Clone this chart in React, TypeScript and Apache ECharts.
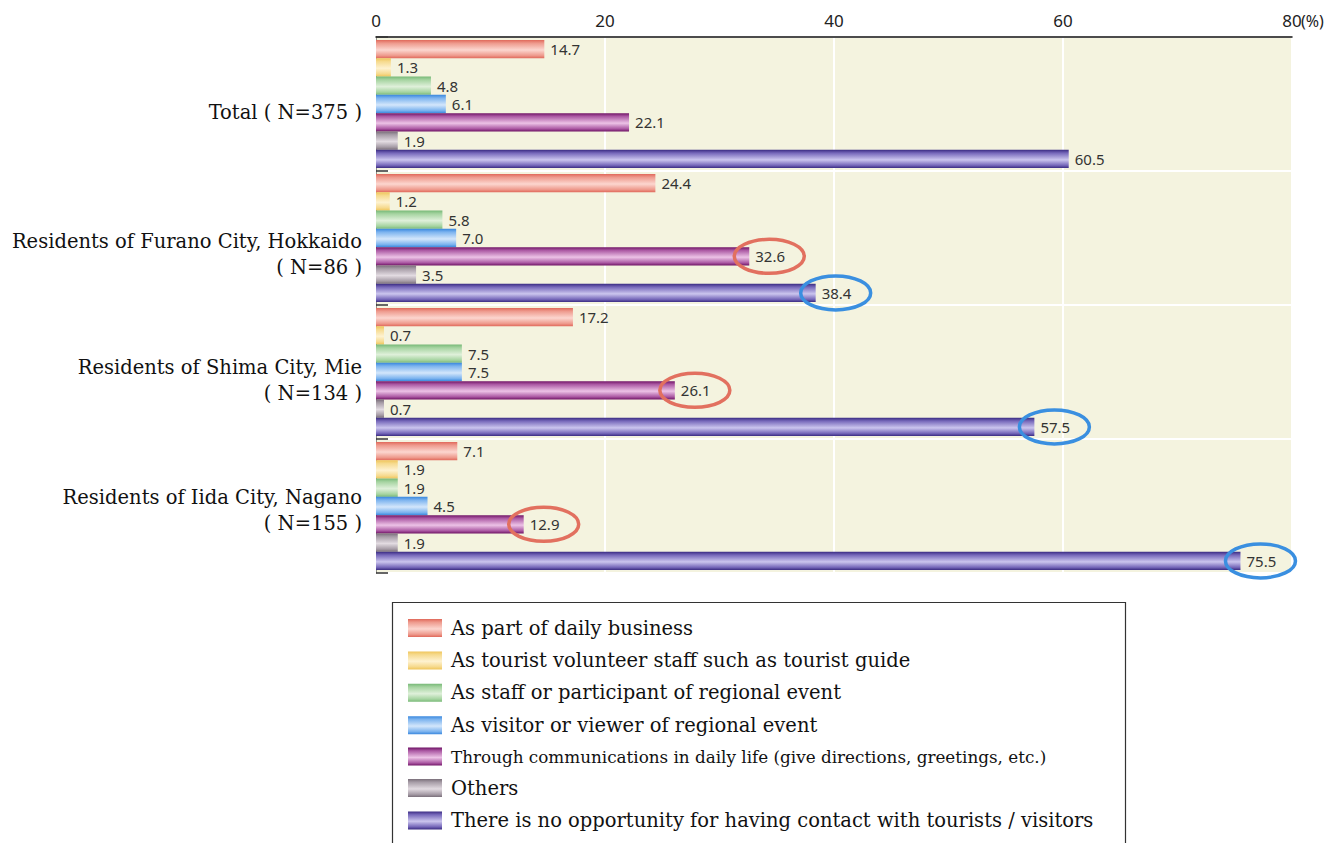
import React, { useEffect, useRef } from "react";
import * as echarts from "echarts";

// Respondent groups (top to bottom)
const categories = [
  "Total ( N=375 )",
  "Residents of Furano City, Hokkaido\n( N=86 )",
  "Residents of Shima City, Mie\n( N=134 )",
  "Residents of Iida City, Nagano\n( N=155 )",
];

// Answer options
const seriesNames = [
  "As part of daily business",
  "As tourist volunteer staff such as tourist guide",
  "As staff or participant of regional event",
  "As visitor or viewer of regional event",
  "Through communications in daily life (give directions, greetings, etc.)",
  "Others",
  "There is no opportunity for having contact with tourists / visitors",
];

// Percentages per group (Total, Furano, Shima, Iida)
const dailyBusiness = [14.7, 24.4, 17.2, 7.1];
const volunteerStaff = [1.3, 1.2, 0.7, 1.9];
const eventStaff = [4.8, 5.8, 7.5, 1.9];
const eventVisitor = [6.1, 7.0, 7.5, 4.5];
const dailyCommunication = [22.1, 32.6, 26.1, 12.9];
const others = [1.9, 3.5, 0.7, 1.9];
const noOpportunity = [60.5, 38.4, 57.5, 75.5];

const seriesValues = [
  dailyBusiness,
  volunteerStaff,
  eventStaff,
  eventVisitor,
  dailyCommunication,
  others,
  noOpportunity,
];

// Value axis ticks
const xTicks = [0, 20, 40, 60, 80];

// Circled values: [series index, group index]
const circled = [
  [4, 1],
  [4, 2],
  [4, 3],
  [6, 1],
  [6, 2],
  [6, 3],
];

// [edge, mid, highlight] shades for each cylinder-style bar
const palette = [
  ["#e0685a", "#ee9a8d", "#fcd6cf"],
  ["#efc55a", "#f6da8e", "#fef2d0"],
  ["#78b978", "#a6d4a1", "#dff0da"],
  ["#3a88de", "#7db4ef", "#d3e6fb"],
  ["#701466", "#ac5aa4", "#ecc2e6"],
  ["#7a6f7a", "#a79da7", "#e2dbe1"],
  ["#3a2b82", "#7668ba", "#cbc5ee"],
];

const ringColors: Record<number, string> = { 4: "#e2705f", 6: "#3a8fe0" };

// height of a blank spacer line above each group label, nudging it below the band centre
const labelSpacer = [16, 32, 16, 8];

const BAR_WIDTH = 18.3;
const SANS = "'Noto Sans', 'Open Sans', sans-serif";
const SERIF = "'DejaVu Serif', 'Liberation Serif', serif";

function cylinder(c: string[]) {
  return new echarts.graphic.LinearGradient(0, 0, 0, 1, [
    { offset: 0, color: c[0] },
    { offset: 0.18, color: c[1] },
    { offset: 0.55, color: c[2] },
    { offset: 0.85, color: c[1] },
    { offset: 1, color: c[0] },
  ]);
}

export default function App() {
  const ref = useRef<HTMLDivElement>(null);

  useEffect(() => {
    if (!ref.current) return;
    const chart = echarts.init(ref.current, null, { renderer: "svg" });

    const barSeries = seriesNames.map((name, i) => ({
      name,
      type: "bar",
      data: seriesValues[i],
      barWidth: BAR_WIDTH,
      barGap: "0%",
      z: 2,
      itemStyle: { color: cylinder(palette[i]) },
      label: {
        show: true,
        position: "right",
        distance: 6,
        formatter: (p: any) => Number(p.value).toFixed(1),
        fontFamily: SANS,
        fontSize: 15,
        color: "#333",
      },
    }));

    const ringSeries = {
      type: "custom",
      name: "circled",
      silent: true,
      z: 6,
      data: circled.map(([s, c]) => [seriesValues[s][c], c, s]),
      encode: { x: 0, y: 1 },
      renderItem: (_params: any, api: any) => {
        const value = api.value(0);
        const cat = api.value(1);
        const s = api.value(2);
        const p = api.coord([value, cat]);
        const total = BAR_WIDTH * seriesNames.length;
        const cy = p[1] - total / 2 + s * BAR_WIDTH + BAR_WIDTH / 2;
        return {
          type: "ellipse",
          shape: { cx: p[0] + 20, cy, rx: 35, ry: 17 },
          style: { fill: "none", stroke: ringColors[s], lineWidth: 3.5 },
        };
      },
    };

    const labelRich: Record<string, any> = {
      t: { fontFamily: SERIF, fontSize: 19.5, color: "#111", lineHeight: 26 },
    };
    labelSpacer.forEach((h, i) => {
      labelRich["g" + i] = { fontSize: 1, lineHeight: h };
    });

    chart.setOption({
      animation: false,
      backgroundColor: "#ffffff",
      grid: {
        left: 376,
        top: 37,
        width: 916,
        height: 536,
        show: true,
        backgroundColor: "#f4f3df",
        borderColor: "#8f8f86",
        borderWidth: 1,
      },
      xAxis: {
        type: "value",
        position: "top",
        min: xTicks[0],
        max: xTicks[xTicks.length - 1],
        interval: xTicks[1] - xTicks[0],
        axisLine: { show: true, lineStyle: { color: "#111", width: 1.5 } },
        axisTick: { show: false },
        axisLabel: { fontFamily: SANS, fontSize: 17, color: "#222", margin: 8 },
        splitLine: { show: true, lineStyle: { color: "#ffffff", width: 2 } },
      },
      yAxis: {
        type: "category",
        inverse: true,
        data: categories,
        axisLine: { show: true, lineStyle: { color: "#8f8f86", width: 1 } },
        axisTick: { show: true, inside: true, length: 12, lineStyle: { color: "#333", width: 1.5 } },
        splitLine: { show: true, lineStyle: { color: "#ffffff", width: 2 } },
        axisLabel: {
          margin: 14,
          formatter: (value: string, index: number) =>
            [`{g${index}| }`, ...value.split("\n").map((ln) => `{t|${ln}}`)].join("\n"),
          rich: labelRich,
        },
      },
      legend: {
        data: seriesNames,
        orient: "vertical",
        left: 408,
        top: 618,
        padding: 0,
        itemWidth: 34,
        itemHeight: 18,
        itemGap: 12.4,
        icon: "rect",
        selectedMode: false,
        formatter: (name: string) => (name === seriesNames[4] ? `{s|${name}}` : name),
        textStyle: {
          fontFamily: SERIF,
          fontSize: 19.5,
          color: "#111",
          lineHeight: 18,
          padding: [0, 0, 0, 4],
          rich: { s: { fontFamily: SERIF, fontSize: 16.8, color: "#111", lineHeight: 18 } },
        },
      },
      graphic: [
        {
          type: "rect",
          z: -1,
          shape: { x: 392.5, y: 602.5, width: 733, height: 260 },
          style: { fill: "#ffffff", stroke: "#333", lineWidth: 1.2 },
        },
        {
          type: "text",
          x: 1301,
          y: 21,
          style: {
            text: "(%)",
            fontFamily: SANS,
            fontSize: 16,
            fill: "#222",
            verticalAlign: "middle",
          },
        },
      ],
      series: [...barSeries, ringSeries],
    });

    return () => chart.dispose();
  }, []);

  return (
    <div
      ref={ref}
      style={{ position: "fixed", left: 0, top: 0, width: 1336, height: 843 }}
    />
  );
}
